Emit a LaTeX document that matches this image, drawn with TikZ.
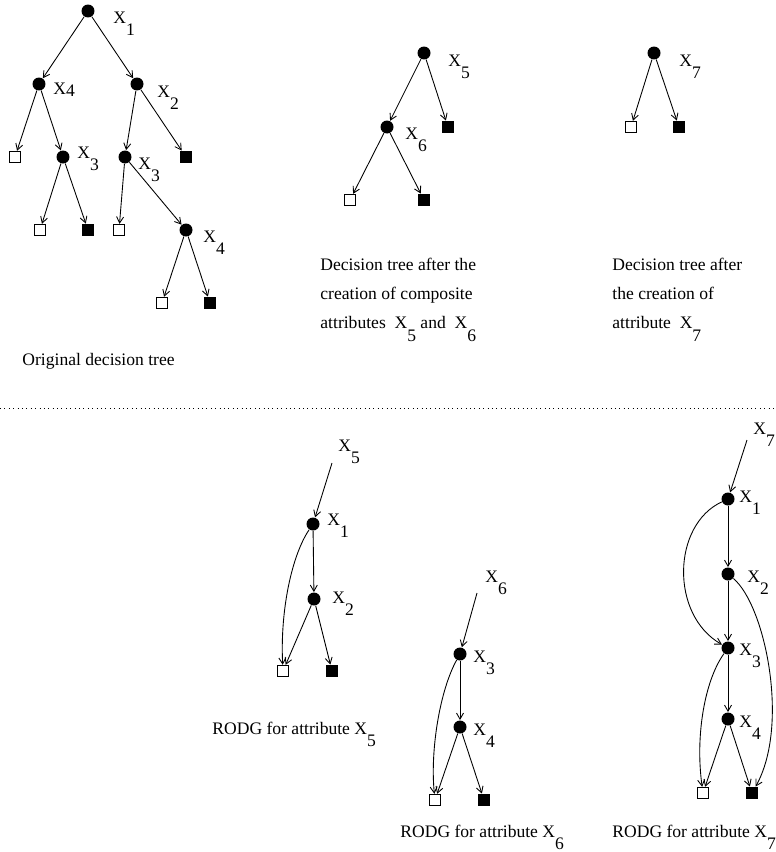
\documentclass[tikz,border=0pt]{standalone}
\usepackage{fontspec}
\setmainfont{Liberation Serif}
\usetikzlibrary{arrows,arrows.meta}
\usetikzlibrary{calc}

\newcommand{\xsub}[2][7pt]{X\raisebox{-#1}{#2}}

\tikzset{
    dnode/.style={circle, fill=black, inner sep=0pt, minimum size=0.26cm},
    wleaf/.style={rectangle, draw=black, fill=white, inner sep=0pt, minimum size=0.23cm},
    bleaf/.style={rectangle, fill=black, inner sep=0pt, minimum size=0.24cm},
    xlab/.style={anchor=base west, inner sep=0pt},
    capt/.style={anchor=north west, inner sep=0pt, align=left, font=\fontsize{10}{16.5}\selectfont},
    arr/.style={-{Straight Barb[length=3.5pt,width=4pt]}},
}

\begin{document}
\begin{tikzpicture}[x=0.02cm, y=-0.02cm, line width=0.5pt]

    \useasboundingbox (0,0) rectangle (775,852);

    % original tree
    \node[dnode] (a1) at (88,11) {};
    \node[dnode] (a4) at (39,84) {};
    \node[dnode] (a2) at (137,84) {};
    \node[wleaf] (w1) at (15,157) {};
    \node[dnode] (a3) at (63,157) {};
    \node[dnode] (b3) at (125,157) {};
    \node[bleaf] (k1) at (186,157) {};
    \node[wleaf] (w2) at (40,230) {};
    \node[bleaf] (k2) at (88,230) {};
    \node[wleaf] (w3) at (119,230) {};
    \node[dnode] (b4) at (186,230) {};
    \node[wleaf] (w4) at (162,303) {};
    \node[bleaf] (k3) at (210,303) {};
    \foreach \s/\t in {a1/a4, a1/a2, a4/w1, a4/a3, a3/w2, a3/k2, a2/b3, a2/k1, b3/w3, b3/b4, b4/w4, b4/k3}{
        \draw[arr] (\s) -- (\t);
    }
    \node[xlab] (la1) at (113,23) {\xsub{1}};
    \node[xlab] (la4) at (53,94) {\xsub[1.7pt]{4}};
    \node[xlab] (la2) at (157,97) {\xsub{2}};
    \node[xlab] (la3) at (77,158) {\xsub{3}};
    \node[xlab] (lb3) at (138,169) {\xsub{3}};
    \node[xlab] (lb4) at (203,242) {\xsub{4}};
    \node[xlab] (cap1) at (22,365) {Original decision tree};

    % tree with X5 and X6
    \node[dnode] (c5) at (424,53) {};
    \node[bleaf] (k4) at (448,127) {};
    \node[dnode] (c6) at (387,127) {};
    \node[wleaf] (w5) at (350,200) {};
    \node[bleaf] (k5) at (424,200) {};
    \foreach \s/\t in {c5/c6, c5/k4, c6/w5, c6/k5}{
        \draw[arr] (\s) -- (\t);
    }
    \node[xlab] (lc5) at (448,66) {\xsub{5}};
    \node[xlab] (lc6) at (405,139) {\xsub{6}};
    \node[capt] (cap2) at (320,258) {Decision tree after the\\creation of composite\\attributes\ \ \xsub{5} and\ \ \xsub{6}};

    % tree with X7
    \node[dnode] (d7) at (654,53) {};
    \node[wleaf] (w6) at (631,127) {};
    \node[bleaf] (k6) at (679,127) {};
    \draw[arr] (d7) -- (w6);
    \draw[arr] (d7) -- (k6);
    \node[xlab] (ld7) at (679,66) {\xsub{7}};
    \node[capt] (cap3) at (612,258) {Decision tree after\\the creation of\\attribute\ \ \xsub{7}};

    \draw[dotted] (0,408) -- (775,408);

    % RODG X5
    \node[xlab] (t5) at (338,451) {\xsub{5}};
    \coordinate (s5) at (332,463);
    \node[dnode] (e1) at (313,524) {};
    \node[dnode] (e2) at (314,599) {};
    \node[wleaf] (w7) at (283,671) {};
    \node[bleaf] (k7) at (332,671) {};
    \foreach \s/\t in {s5/e1, e1/e2, e2/w7, e2/k7}{
        \draw[arr] (\s) -- (\t);
    }
    \draw[arr] (e1) .. controls (292,555) and (280,610) .. (w7);
    \node[xlab] (le1) at (327,525) {\xsub{1}};
    \node[xlab] (le2) at (332,603) {\xsub{2}};
    \node[xlab] (cap4) at (212,734) {RODG for attribute \xsub{5}};

    % RODG X6
    \node[xlab] (t6) at (485,582) {\xsub{6}};
    \coordinate (s6) at (477,593);
    \node[dnode] (f3) at (460,654) {};
    \node[dnode] (f4) at (460,727) {};
    \node[wleaf] (w8) at (435,800) {};
    \node[bleaf] (k8) at (484,800) {};
    \foreach \s/\t in {s6/f3, f3/f4, f4/w8, f4/k8}{
        \draw[arr] (\s) -- (\t);
    }
    \draw[arr] (f3) .. controls (440,690) and (430,750) .. (w8);
    \node[xlab] (lf3) at (473,662) {\xsub{3}};
    \node[xlab] (lf4) at (473,735) {\xsub{4}};
    \node[xlab] (cap5) at (400,837) {RODG for attribute \xsub{6}};

    % RODG X7
    \node[xlab] (t7) at (753,434) {\xsub{7}};
    \coordinate (s7) at (747,440);
    \node[dnode] (g1) at (728,499) {};
    \node[dnode] (g2) at (728,574) {};
    \node[dnode] (g3) at (728,648) {};
    \node[dnode] (g4) at (728,719) {};
    \node[wleaf] (w9) at (703,793) {};
    \node[bleaf] (k9) at (752,793) {};
    \foreach \s/\t in {s7/g1, g1/g2, g2/g3, g3/g4, g4/w9, g4/k9}{
        \draw[arr] (\s) -- (\t);
    }
    \draw[arr] (g1) .. controls (672,525) and (670,615) .. (g3);
    \draw[arr] (g2) .. controls (765,605) and (790,725) .. (k9);
    \draw[arr] (g3) .. controls (705,680) and (695,735) .. (w9);
    \node[xlab] (lg1) at (739,502) {\xsub{1}};
    \node[xlab] (lg2) at (747,582) {\xsub{2}};
    \node[xlab] (lg3) at (739,655) {\xsub{3}};
    \node[xlab] (lg4) at (739,727) {\xsub{4}};
    \node[xlab] (cap6) at (612,837) {RODG for attribute \xsub{7}};

\end{tikzpicture}
\end{document}
